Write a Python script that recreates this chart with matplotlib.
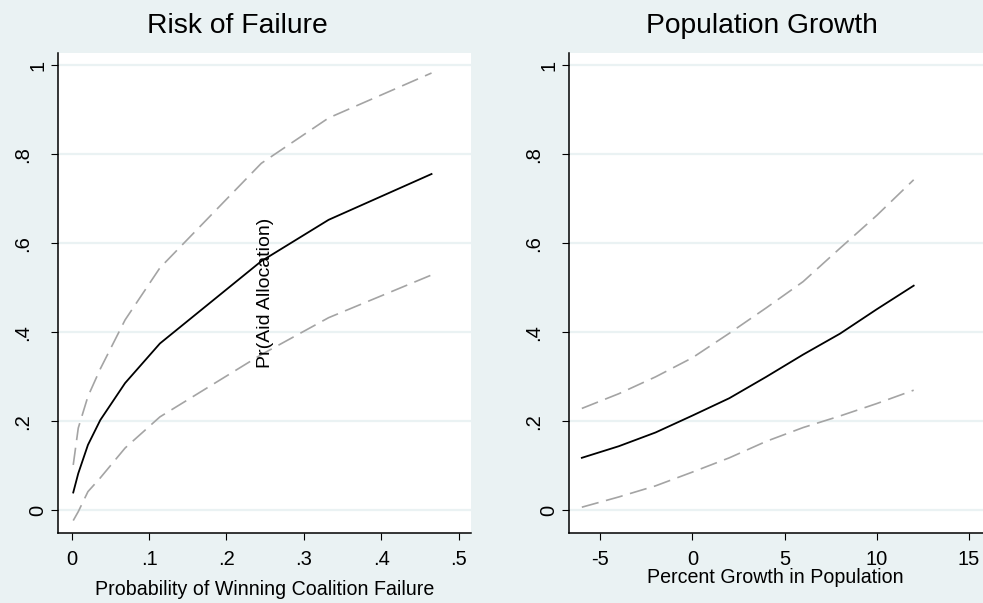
import matplotlib
matplotlib.use("Agg")
import matplotlib.pyplot as plt
from matplotlib.transforms import offset_copy

plt.rcParams['font.family'] = ['Liberation Sans', 'DejaVu Sans']
plt.rcParams['lines.scale_dashes'] = False

# Predicted probability of aid allocation vs. risk of coalition failure
risk_x = [0.002, 0.0085, 0.021, 0.037, 0.069, 0.114, 0.245, 0.332, 0.465]
risk_fit = [0.040, 0.083, 0.147, 0.203, 0.286, 0.375, 0.560, 0.653, 0.756]
risk_hi = [0.102, 0.185, 0.256, 0.318, 0.428, 0.545, 0.780, 0.882, 0.983]
risk_lo = [-0.023, -0.003, 0.042, 0.073, 0.140, 0.210, 0.350, 0.433, 0.529]

# Predicted probability vs. population growth
growth_x = [-6, -4, -2, 0, 2, 4, 6, 8, 10, 12]
growth_fit = [0.118, 0.144, 0.175, 0.213, 0.252, 0.300, 0.350, 0.397, 0.452, 0.505]
growth_hi = [0.229, 0.262, 0.300, 0.343, 0.398, 0.455, 0.514, 0.589, 0.663, 0.743]
growth_lo = [0.007, 0.030, 0.055, 0.086, 0.118, 0.155, 0.186, 0.212, 0.240, 0.270]

y_ticks = [0, 0.2, 0.4, 0.6, 0.8, 1.0]
y_ticklabels = ['0', '.2', '.4', '.6', '.8', '1']
risk_ticks = [0, 0.1, 0.2, 0.3, 0.4, 0.5]
risk_ticklabels = ['0', '.1', '.2', '.3', '.4', '.5']
growth_ticks = [-5, 0, 5, 10, 15]
growth_ticklabels = ['-5', '0', '5', '10', '15']

BG = '#EAF2F3'
CI = '#A4A4A4'
W, H = 983, 603

fig = plt.figure(figsize=(W / 100, H / 100), dpi=100, facecolor=BG)


def px_rect(x0, x1, y_top, y_bot):
    return [x0 / W, 1 - y_bot / H, (x1 - x0) / W, (y_bot - y_top) / H]


ax1 = fig.add_axes(px_rect(58.3, 471, 53, 533))
ax2 = fig.add_axes(px_rect(569.3, 983, 53, 533))


def style(ax, x, fit, hi, lo, xlim, xticks, xticklabels):
    ax.set_facecolor('white')
    for yv in y_ticks:
        ax.axhline(yv, color=BG, lw=1.6, zorder=1)
    ax.plot(x, hi, color=CI, lw=1.2, ls=(0, (12.5, 5.5)), zorder=2)
    ax.plot(x, lo, color=CI, lw=1.2, ls=(0, (12.5, 5.5)), zorder=2)
    ax.plot(x, fit, color='black', lw=1.3, zorder=3)
    ax.set_xlim(*xlim)
    ax.set_ylim(-0.051, 1.028)
    for s in ('top', 'right'):
        ax.spines[s].set_visible(False)
    for s in ('left', 'bottom'):
        ax.spines[s].set_linewidth(1.1)
        ax.spines[s].set_color('black')
    ax.set_xticks(xticks)
    ax.set_xticklabels(xticklabels, fontsize=14.5)
    ax.set_yticks(y_ticks)
    ax.set_yticklabels([])
    ax.tick_params(axis='both', direction='out', length=5, width=0.8, color='black')
    ax.tick_params(axis='x', pad=7)
    base = ax.get_yaxis_transform()
    for yv, lab in zip(y_ticks, y_ticklabels):
        off = 15 if len(lab) == 1 else 30
        tr = offset_copy(base, fig=fig, x=-off, y=0, units='dots')
        ax.text(0, yv, lab, transform=tr, rotation=90, rotation_mode='anchor',
                ha='center', va='baseline', fontsize=14.5, clip_on=False)


style(ax1, risk_x, risk_fit, risk_hi, risk_lo, (-0.0173, 0.516),
      risk_ticks, risk_ticklabels)
style(ax2, growth_x, growth_fit, growth_hi, growth_lo, (-6.68, 15.76),
      growth_ticks, growth_ticklabels)

fig.text(237.6 / W, 1 - 33 / H, 'Risk of Failure', ha='center', va='baseline', fontsize=20.3)
fig.text(761.7 / W, 1 - 33 / H, 'Population Growth', ha='center', va='baseline', fontsize=20.3)
fig.text(265 / W, 1 - 595 / H, 'Probability of Winning Coalition Failure',
         ha='center', va='baseline', fontsize=14.1)
fig.text(775.8 / W, 1 - 582.7 / H, 'Percent Growth in Population',
         ha='center', va='baseline', fontsize=14.1)
fig.text(266 / W, 1 - 293 / H, 'Pr(Aid Allocation)', rotation=90,
         ha='center', va='center', fontsize=14)

fig.savefig('out.png', dpi=100, facecolor=BG)
